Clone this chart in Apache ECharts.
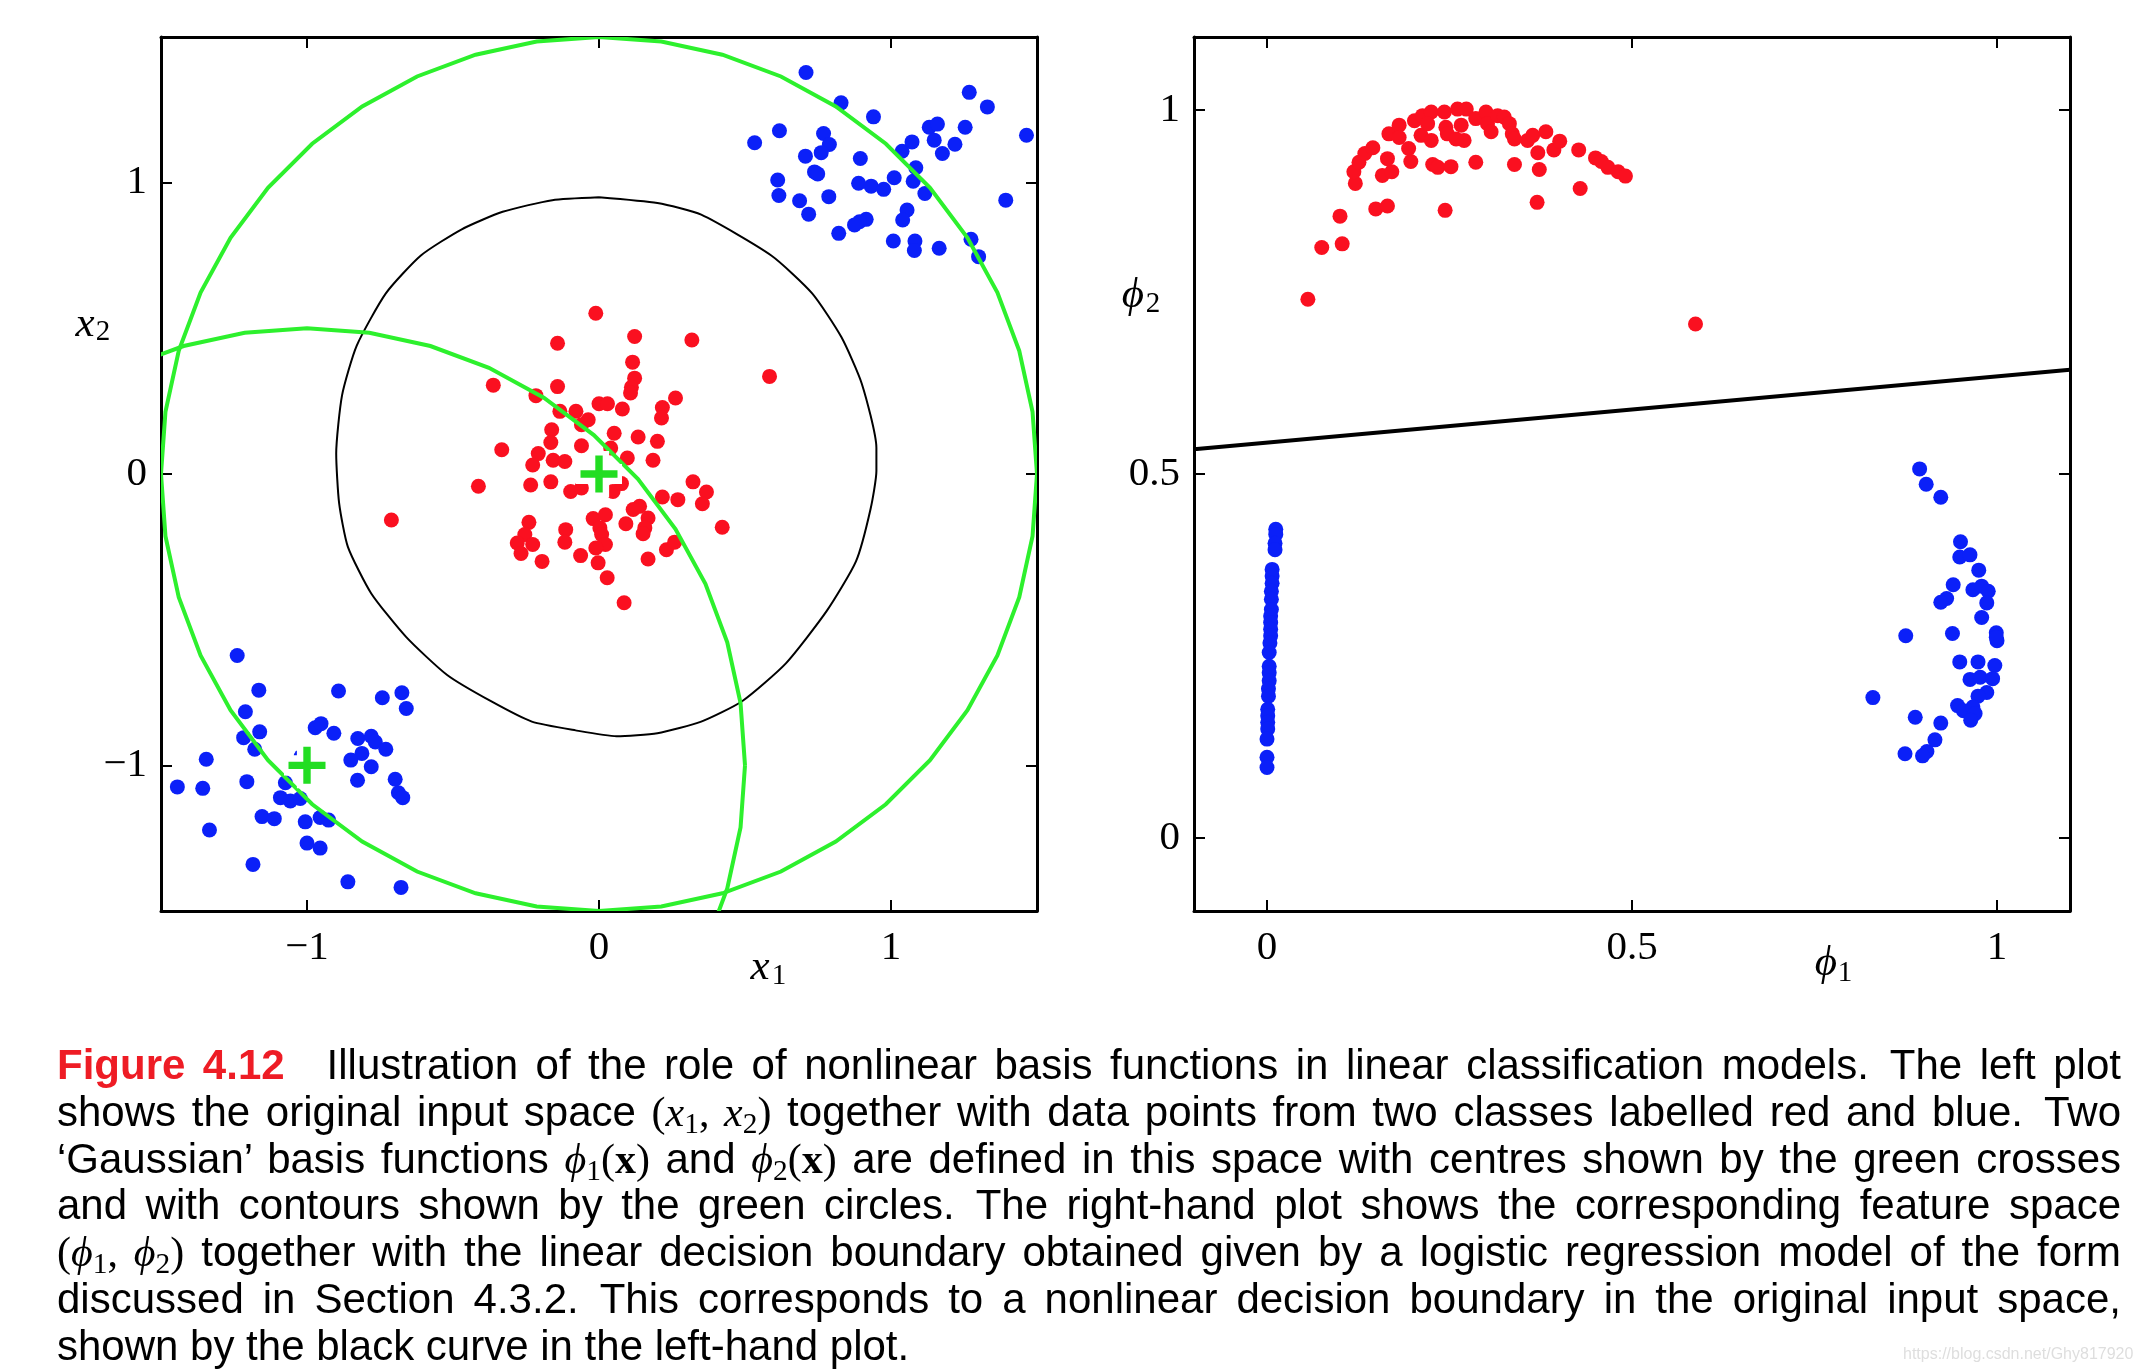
<!DOCTYPE html>
<html><head><meta charset="utf-8">
<script src="https://cdn.jsdelivr.net/npm/echarts@6/dist/echarts.min.js"></script>
<style>
html,body{margin:0;padding:0;background:#fff;}
#chart{position:absolute;left:0;top:0;width:2142px;height:1372px;}
#caption{position:absolute;left:57px;top:1042px;width:2064px;font-family:"Liberation Sans",Arial,sans-serif;font-size:42px;line-height:46.8px;color:#000;}
#caption div{text-align:justify;text-align-last:justify;white-space:nowrap;}
#caption div.last{text-align-last:left;}
.fig{color:#ee1c25;font-weight:bold;}
.m{font-family:"Liberation Serif","DejaVu Serif",serif;}
.m i{font-style:italic;}
.m sub{font-size:0.7em;vertical-align:-0.25em;line-height:0;}
.bx{font-weight:bold;}
#wm{position:absolute;left:1903px;top:1345px;font-family:"Liberation Sans Narrow","Liberation Sans",sans-serif;font-size:16px;color:#dedede;}
</style></head>
<body>
<div id="chart"></div>
<div id="caption">
<div><span class="fig">Figure 4.12</span>&ensp;&ensp;Illustration of the role of nonlinear basis functions in linear classification models.&ensp;The left plot</div>
<div>shows the original input space <span class="m">(<i>x</i><sub>1</sub>, <i>x</i><sub>2</sub>)</span> together with data points from two classes labelled red and blue.&ensp;Two</div>
<div>‘Gaussian’ basis functions <span class="m"><i>ϕ</i><sub>1</sub>(<span class="bx">x</span>)</span> and <span class="m"><i>ϕ</i><sub>2</sub>(<span class="bx">x</span>)</span> are defined in this space with centres shown by the green crosses</div>
<div>and with contours shown by the green circles.&ensp;The right-hand plot shows the corresponding feature space</div>
<div><span class="m">(<i>ϕ</i><sub>1</sub>, <i>ϕ</i><sub>2</sub>)</span> together with the linear decision boundary obtained given by a logistic regression model of the form</div>
<div>discussed in Section 4.3.2.&ensp;This corresponds to a nonlinear decision boundary in the original input space,</div>
<div class="last">shown by the black curve in the left-hand plot.</div>
</div>
<div id="wm">https://blog.csdn.net/Ghy817920</div>
<script>
// ---------- data ----------
const leftTicks = [-1, 0, 1];
const rightTicks = [0, 0.5, 1];

const leftRed = [
[-0.011,0.552],[0.122,0.472],[0.318,0.460],[-0.142,0.449],[0.584,0.335],[0.115,0.384],[0.122,0.329],[0.111,0.298],[0.108,0.278],[-0.362,0.305],
[-0.142,0.300],[-0.216,0.269],[-0.134,0.215],[-0.079,0.215],[-0.037,0.186],[-0.060,0.169],[0.000,0.241],[0.029,0.241],[0.080,0.223],[0.262,0.261],
[0.217,0.228],[0.214,0.192],[-0.162,0.152],[-0.165,0.108],[-0.060,0.097],[0.052,0.140],[0.134,0.127],[0.200,0.112],[-0.333,0.083],[-0.208,0.070],
[-0.227,0.031],[-0.157,0.047],[-0.117,0.043],[0.040,0.089],[0.097,0.055],[0.185,0.047],[-0.413,-0.042],[-0.234,-0.038],[-0.165,-0.027],[-0.097,-0.060],
[-0.060,-0.048],[0.048,-0.060],[0.077,-0.033],[0.322,-0.027],[0.368,-0.062],[0.354,-0.102],[0.217,-0.079],[0.270,-0.088],[0.139,-0.111],[0.168,-0.151],
[0.157,-0.185],[0.151,-0.205],[0.422,-0.183],[0.092,-0.171],[-0.020,-0.153],[0.022,-0.140],[0.003,-0.185],[0.009,-0.208],[0.022,-0.242],[-0.011,-0.254],
[-0.003,-0.305],[0.028,-0.356],[0.086,-0.442],[-0.063,-0.280],[-0.114,-0.191],[-0.117,-0.234],[-0.240,-0.166],[-0.254,-0.208],[-0.280,-0.237],[-0.227,-0.242],
[-0.267,-0.273],[-0.195,-0.300],[0.168,-0.292],[0.231,-0.260],[0.259,-0.234],[0.117,-0.122],[-0.711,-0.158]
];

const leftBlue = [
[0.709,1.378],[0.829,1.274],[0.940,1.226],[0.618,1.178],[0.533,1.137],[0.769,1.169],[0.789,1.131],[0.761,1.103],[0.707,1.091],[0.738,1.037],
[0.749,1.030],[0.612,1.009],[0.616,0.956],[0.687,0.938],[0.718,0.892],[0.787,0.952],[0.895,1.083],[0.889,0.998],[0.932,0.988],[0.975,0.977],
[1.011,1.017],[1.038,1.108],[1.072,1.140],[1.085,1.051],[1.076,1.005],[1.116,0.963],[1.131,1.190],[1.159,1.201],[1.148,1.146],[1.176,1.100],
[1.219,1.132],[1.254,1.190],[1.268,1.310],[1.330,1.260],[1.464,1.163],[1.393,0.940],[1.055,0.906],[1.040,0.872],[0.915,0.874],[0.892,0.866],
[0.875,0.855],[0.821,0.826],[1.008,0.800],[1.082,0.800],[1.080,0.767],[1.165,0.775],[1.274,0.806],[1.300,0.746],
[-1.239,-0.623],[-1.165,-0.742],[-1.211,-0.816],[-1.162,-0.885],[-1.217,-0.905],[-1.179,-0.945],[-1.345,-0.979],[-1.444,-1.074],[-1.357,-1.079],[-1.206,-1.056],
[-1.334,-1.222],[-1.185,-1.340],[-1.074,-1.060],[-1.091,-1.111],[-1.057,-1.122],[-1.023,-1.114],[-1.154,-1.176],[-1.112,-1.183],[-1.006,-1.194],[-0.955,-1.179],
[-0.926,-1.188],[-1.000,-1.267],[-0.955,-1.284],[-0.860,-1.400],[-0.678,-1.419],[-0.972,-0.871],[-0.952,-0.857],[-0.908,-0.890],[-0.892,-0.745],[-0.826,-0.908],
[-0.780,-0.900],[-0.766,-0.920],[-0.730,-0.945],[-0.812,-0.959],[-0.850,-0.982],[-0.780,-1.005],[-0.827,-1.051],[-0.698,-1.048],[-0.687,-1.094],[-0.672,-1.111],
[-0.742,-0.768],[-0.675,-0.751],[-0.660,-0.805],[-1.020,-0.970]
];

// black decision curve in input space
const leftBoundary = [
[0.00,0.95],[0.20,0.93],[0.35,0.89],[0.59,0.75],[0.73,0.62],[0.83,0.47],[0.90,0.31],[0.95,0.09],[0.95,0.01],[0.93,-0.12],
[0.88,-0.30],[0.78,-0.47],[0.64,-0.65],[0.49,-0.78],[0.35,-0.85],[0.20,-0.89],[0.06,-0.90],[-0.08,-0.88],[-0.23,-0.85],[-0.37,-0.78],
[-0.52,-0.69],[-0.66,-0.56],[-0.78,-0.41],[-0.86,-0.25],[-0.89,-0.10],[-0.90,0.07],[-0.88,0.27],[-0.83,0.44],[-0.73,0.62],[-0.61,0.75],
[-0.47,0.84],[-0.33,0.90],[-0.16,0.94],[0.00,0.95]
];

// Gaussian basis centres and their contour radius
const basisCentres = [[0, 0], [-1, -1]];
const contourRadius = 1.5;

const rightRed = [
[0.056,0.740],[0.075,0.811],[0.103,0.816],[0.100,0.854],[0.121,0.899],[0.119,0.915],[0.126,0.928],[0.134,0.940],[0.145,0.948],[0.149,0.864],
[0.165,0.868],[0.158,0.910],[0.171,0.915],[0.165,0.933],[0.167,0.967],[0.181,0.979],[0.194,0.947],[0.197,0.929],[0.202,0.985],[0.213,0.992],
[0.225,0.997],[0.211,0.965],[0.225,0.958],[0.227,0.925],[0.234,0.921],[0.244,0.862],[0.252,0.922],[0.243,0.997],[0.245,0.976],[0.247,0.967],
[0.261,1.001],[0.273,1.001],[0.266,0.979],[0.270,0.958],[0.259,0.960],[0.286,0.928],[0.286,0.988],[0.300,0.997],[0.302,0.981],[0.307,0.970],
[0.316,0.992],[0.325,0.990],[0.332,0.981],[0.336,0.967],[0.339,0.960],[0.339,0.925],[0.357,0.958],[0.364,0.965],[0.371,0.941],[0.373,0.918],
[0.370,0.873],[0.382,0.970],[0.393,0.945],[0.401,0.957],[0.427,0.945],[0.429,0.892],[0.450,0.934],[0.458,0.929],[0.467,0.921],[0.481,0.915],
[0.491,0.909],[0.220,0.981],[0.181,0.962],[0.587,0.706]
];

const rightBlue = [
[0.012,0.424],[0.012,0.417],[0.011,0.405],[0.011,0.396],[0.007,0.369],[0.007,0.360],[0.007,0.350],[0.006,0.339],[0.006,0.328],[0.006,0.314],
[0.005,0.305],[0.005,0.296],[0.005,0.287],[0.005,0.278],[0.004,0.268],[0.003,0.255],[0.003,0.236],[0.003,0.227],[0.003,0.216],[0.002,0.205],
[0.002,0.195],[0.001,0.177],[0.001,0.168],[0.001,0.159],[0.001,0.150],[0.000,0.136],[0.000,0.111],[0.000,0.097],
[0.894,0.507],[0.903,0.486],[0.923,0.468],[0.950,0.407],[0.949,0.386],[0.963,0.389],[0.975,0.368],[0.940,0.348],[0.967,0.341],[0.979,0.346],
[0.988,0.339],[0.986,0.323],[0.931,0.329],[0.923,0.324],[0.979,0.303],[0.999,0.282],[1.000,0.271],[0.999,0.276],[0.875,0.278],[0.939,0.281],
[0.949,0.242],[0.974,0.242],[0.997,0.237],[0.963,0.218],[0.977,0.221],[0.994,0.219],[0.986,0.200],[0.974,0.195],[0.830,0.193],[0.946,0.182],
[0.954,0.175],[0.967,0.180],[0.970,0.171],[0.964,0.162],[0.888,0.166],[0.923,0.158],[0.915,0.135],[0.904,0.119],[0.898,0.113],[0.874,0.116]
];

// linear decision boundary in feature space (end points read at the plot edges)
const rightBoundary = [[-0.1, 0.534], [1.1, 0.643]];

// ---------- styling ----------
const RED = '#fa1020', BLUE = '#0b20f8', GREEN = '#2df02d', CROSS = '#22dd22';
const SERIF = '"Liberation Serif","DejaVu Serif",serif';
const fmt = v => (v < 0 ? '\u2212' + Math.abs(v) : String(v));

function axis(kind, grid, pos, min, max, ticks, labels) {
  return {
    type: 'value', gridIndex: grid, position: pos, min: min, max: max,
    axisLine: {show: true, onZero: false, lineStyle: {color: '#000', width: 3}},
    axisTick: {show: true, inside: true, length: 11, customValues: ticks, lineStyle: {color: '#000', width: 2}},
    axisLabel: {show: labels, customValues: ticks, formatter: fmt, fontFamily: SERIF, fontSize: 41, color: '#000',
                margin: kind === 'x' ? 17 : 14},
    splitLine: {show: false}
  };
}

const chart = echarts.init(document.getElementById('chart'), null, {renderer: 'canvas'});

const txt = (x, y, t, size, italic) => ({
  type: 'text', x: x, y: y, silent: true,
  style: {text: t, fontFamily: SERIF, fontStyle: italic ? 'italic' : 'normal', fontSize: size, fill: '#000',
          align: 'center', verticalAlign: 'middle'}
});

const scatterBase = {type: 'scatter', symbol: 'circle', symbolSize: 15, emphasis: {disabled: true}, animation: false};

chart.setOption({
  animation: false,
  grid: [
    {left: 161, top: 37, width: 876, height: 874},
    {left: 1194, top: 37, width: 876, height: 874}
  ],
  xAxis: [
    axis('x', 0, 'bottom', -1.5, 1.5, leftTicks, true),
    axis('x', 0, 'top', -1.5, 1.5, leftTicks, false),
    axis('x', 1, 'bottom', -0.1, 1.1, rightTicks, true),
    axis('x', 1, 'top', -0.1, 1.1, rightTicks, false)
  ],
  yAxis: [
    axis('y', 0, 'left', -1.5, 1.5, leftTicks, true),
    axis('y', 0, 'right', -1.5, 1.5, leftTicks, false),
    axis('y', 1, 'left', -0.1, 1.1, rightTicks, true),
    axis('y', 1, 'right', -0.1, 1.1, rightTicks, false)
  ],
  graphic: [
    txt(760, 968, 'x', 43, true), txt(779, 976, '1', 29, false),
    txt(85, 325, 'x', 43, true), txt(103, 332, '2', 29, false),
    txt(1826, 964, 'ϕ', 43, true), txt(1845, 973, '1', 29, false),
    txt(1133, 296, 'ϕ', 43, true), txt(1153, 304, '2', 29, false)
  ],
  series: [
    {type: 'line', xAxisIndex: 0, yAxisIndex: 0, data: leftBoundary, symbol: 'none', z: 2, smooth: 0.2,
     lineStyle: {color: '#000', width: 2}, emphasis: {disabled: true}},
    Object.assign({}, scatterBase, {xAxisIndex: 0, yAxisIndex: 0, data: leftRed, itemStyle: {color: RED, opacity: 1}, z: 3}),
    Object.assign({}, scatterBase, {xAxisIndex: 0, yAxisIndex: 0, data: leftBlue, itemStyle: {color: BLUE, opacity: 1}, z: 3}),
    {type: 'custom', xAxisIndex: 0, yAxisIndex: 0, clip: true, z: 4, silent: true,
     data: basisCentres.map(c => [c[0], c[1], contourRadius]),
     renderItem: function (params, api) {
       const cx = api.value(0), cy = api.value(1), r = api.value(2);
       const pts = [];
       const n = 44;
       for (let k = 0; k <= n; k++) {
         const t = 2 * Math.PI * k / n;
         pts.push(api.coord([cx + r * Math.cos(t), cy + r * Math.sin(t)]));
       }
       return {type: 'polyline', shape: {points: pts}, style: {stroke: GREEN, lineWidth: 4, fill: null}};
     }},
    Object.assign({}, scatterBase, {xAxisIndex: 0, yAxisIndex: 0, data: basisCentres, z: 5,
      symbol: 'path://M28,0H72V28H100V72H72V100H28V72H0V28H28Z', symbolSize: 46, itemStyle: {color: '#fff', opacity: 1}}),
    Object.assign({}, scatterBase, {xAxisIndex: 0, yAxisIndex: 0, data: basisCentres, z: 6,
      symbol: 'path://M40,0H60V40H100V60H60V100H40V60H0V40H40Z', symbolSize: 37, itemStyle: {color: CROSS, opacity: 1}}),
    {type: 'line', xAxisIndex: 2, yAxisIndex: 2, data: rightBoundary, symbol: 'none', z: 2,
     lineStyle: {color: '#000', width: 4}, emphasis: {disabled: true}},
    Object.assign({}, scatterBase, {xAxisIndex: 2, yAxisIndex: 2, data: rightRed, itemStyle: {color: RED, opacity: 1}, z: 3}),
    Object.assign({}, scatterBase, {xAxisIndex: 2, yAxisIndex: 2, data: rightBlue, itemStyle: {color: BLUE, opacity: 1}, z: 3})
  ]
});
</script>
</body></html>
